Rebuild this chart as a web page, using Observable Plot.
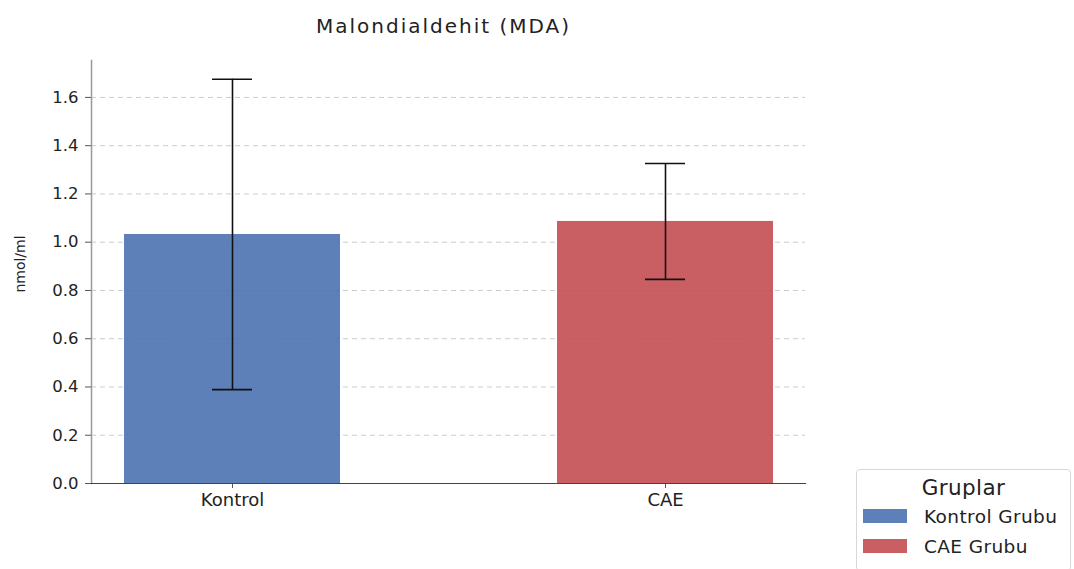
<!DOCTYPE html>
<html>
<head>
<meta charset="utf-8">
<script src="https://cdn.jsdelivr.net/npm/d3@7"></script>
<script src="https://cdn.jsdelivr.net/npm/@observablehq/plot@0.6"></script>
<style>
  body { margin: 0; background: #fff; font-family: "DejaVu Sans", sans-serif; }
  #wrap { position: relative; width: 1074px; height: 569px; }
  #legend {
    position: absolute; left: 856px; top: 469px; width: 215px; height: 102px;
    border: 1px solid #d8d8d8; border-radius: 4px; box-sizing: border-box;
    background: #fff; color: #222;
  }
  #legend .title { text-align: center; font-size: 21.5px; letter-spacing: 0.4px; line-height: 26px; margin-top: 5px; }
  #legend .row { display: flex; align-items: center; height: 30px; }
  #legend .sw { width: 44px; height: 14px; margin-left: 6px; margin-right: 17px; }
  #legend .lab { font-size: 18.5px; letter-spacing: 0.4px; }
  .chart-title { letter-spacing: 2px; }
</style>
</head>
<body>
<div id="wrap"></div>
<script>
// Group names, means and standard deviations of MDA (nmol/ml)
const groups = ["Kontrol", "CAE"];
const legendNames = ["Kontrol Grubu", "CAE Grubu"];
const means = [1.032, 1.086];
const sds = [0.643, 0.240];
const colors = ["#4C72B0", "#C44E52"];
const yTicks = [0, 0.2, 0.4, 0.6, 0.8, 1.0, 1.2, 1.4, 1.6];
const title = "Malondialdehit (MDA)";
const yLabel = "nmol/ml";

const data = groups.map((g, i) => ({
  group: g, mean: means[i], lo: means[i] - sds[i], hi: means[i] + sds[i], color: colors[i]
}));

const chart = Plot.plot({
  width: 1074,
  height: 569,
  marginLeft: 91,
  marginRight: 269,
  marginTop: 60,
  marginBottom: 86,
  style: { fontFamily: "'DejaVu Sans', sans-serif", fontSize: "16px", color: "#222" },
  x: { type: "band", domain: groups, paddingInner: 0.502, paddingOuter: 0.0736, align: 0.5, label: null },
  y: { domain: [0, 1.753], label: null },
  marks: [
    Plot.gridY(yTicks, { stroke: "#cccccc", strokeOpacity: 1, strokeDasharray: "5,4", strokeWidth: 1 }),
    Plot.barY(data, { x: "group", y: "mean", fill: "color", fillOpacity: 0.9 }),
    Plot.ruleX(data, { x: "group", y1: "lo", y2: "hi", stroke: "#111", strokeWidth: 1.6 }),
    Plot.tickY(data, { x: "group", y: "hi", stroke: "#111", strokeWidth: 1.6, insetLeft: 88, insetRight: 88 }),
    Plot.tickY(data, { x: "group", y: "lo", stroke: "#111", strokeWidth: 1.6, insetLeft: 88, insetRight: 88 }),
    Plot.axisY({ ticks: yTicks, tickFormat: d3.format(".1f"), tickSize: 6, tickPadding: 7, fontSize: 16.5, stroke: "#555", color: "#222" }),
    Plot.axisX({ tickSize: 5, tickPadding: 5, fontSize: 18, stroke: "#555", label: null }),
    Plot.frame({ anchor: "left", stroke: "#999", strokeWidth: 1.5 }),
    Plot.frame({ anchor: "bottom", stroke: "#444", strokeWidth: 1.2 }),
    Plot.text([title], { frameAnchor: "top", dx: -5, dy: -42, fontSize: 20, fill: "#222" }),
    Plot.text([yLabel], { frameAnchor: "left", textAnchor: "middle", dx: -71, dy: -8, rotate: -90, fontSize: 14, fill: "#222" })
  ]
});

// widen the title's tracking
d3.select(chart).selectAll("text").filter(function () { return this.textContent === title; })
  .classed("chart-title", true);

const wrap = document.getElementById("wrap");
wrap.appendChild(chart);

// Legend box below-right of the plot
const legend = document.createElement("div");
legend.id = "legend";
legend.innerHTML = `<div class="title">Gruplar</div>` +
  legendNames.map((n, i) => `<div class="row"><div class="sw" style="background:${colors[i]};opacity:0.9"></div><div class="lab">${n}</div></div>`).join("");
wrap.appendChild(legend);
</script>
</body>
</html>
